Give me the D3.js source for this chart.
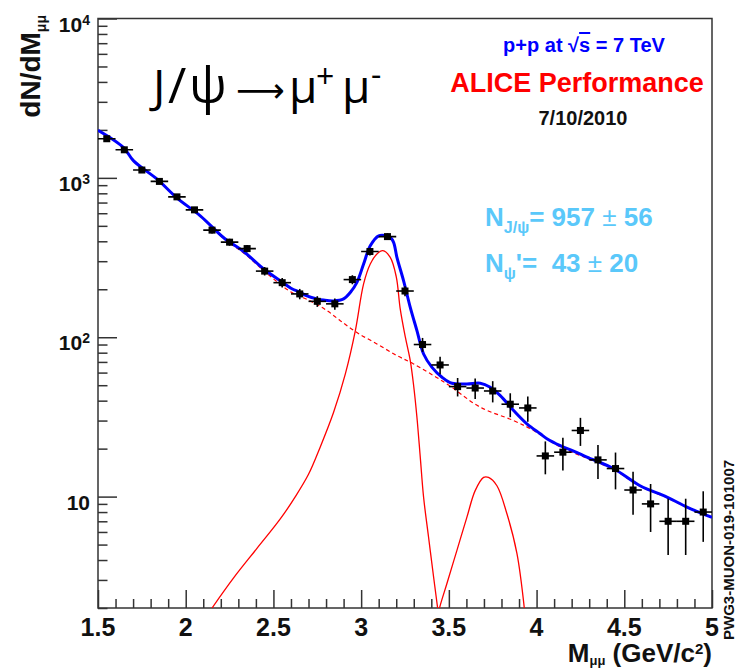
<!DOCTYPE html>
<html><head><meta charset="utf-8">
<script src="https://cdn.jsdelivr.net/npm/d3@7"></script>
<style>body{margin:0;background:#fff;} svg{display:block;}</style>
</head><body><div id="chart"></div>
<script>
// ---- data ----
const binCenters = [1.55,1.65,1.75,1.85,1.95,2.05,2.15,2.25,2.35,2.45,2.55,2.65,2.75,2.85,2.95,3.05,3.15,3.25,3.35,3.45,3.55,3.65,3.75,3.85,3.95,4.05,4.15,4.25,4.35,4.45,4.55,4.65,4.75,4.85,4.95];
const counts = [1760,1500,1120,950,760,630,470,395,360,260,220,187,168,162,230,345,428,195,90,67,49,48,46,38,36,18,19,26,17,15,11,9,7,7,8];
const countErrors = [42,39,33,31,27,25,22,20,19,16,15,14,13,13,15,19,21,14,9,8.5,6.5,7,7,6.5,6.5,4.2,4.4,5.2,4.1,3.9,3.3,3.0,2.7,2.7,2.8];
const binHalfWidth = 0.05;

const fitMass  = [1.5,1.646,1.703,1.837,1.951,2.083,2.22,2.33,2.45,2.55,2.60,2.653,2.691,2.748,2.786,2.843,2.90,2.938,2.976,3.014,3.052,3.10,3.147,3.166,3.185,3.204,3.242,3.28,3.318,3.356,3.404,3.461,3.518,3.603,3.679,3.736,3.793,3.869,3.945,4.021,4.059,4.135,4.211,4.287,4.438,4.59,4.743,4.857,5.0];
const fitValue = [1990,1549,1278,981,746,578,418,345,265,222,203,191,182,174,171,169,174,191,221,288,375,433,433,423,394,317,226,154,110,78.5,64.7,56.1,51.4,50.9,51.5,48.5,43,34.7,28.6,24.8,23.1,20.9,19.3,17.7,15.0,11.7,9.93,8.6,7.4];

const bkgMass  = [1.5,1.646,1.703,1.837,1.951,2.083,2.22,2.33,2.46,2.60,2.71,2.805,2.881,2.976,3.09,3.204,3.299,3.489,3.679,3.869,3.983,4.135,4.287,4.438,4.59,4.743,4.857,5.0];
const bkgValue = [1985,1545,1275,978,743,575,413,338,253,192,169,147,127,107,90.8,76.7,68,50.9,36.4,30,26,20.5,17.4,14.8,11.6,9.85,8.55,7.4];

const sigMass  = [2.15,2.273,2.406,2.539,2.625,2.70,2.767,2.843,2.91,2.967,3.014,3.052,3.09,3.124,3.166,3.20,3.223,3.252,3.28,3.299,3.318,3.337,3.356,3.384,3.413,3.436,3.441,3.447,3.489,3.546,3.603,3.65,3.698,3.726,3.774,3.831,3.888,3.93];
const sigValue = [2.0,3.09,4.73,7.24,10.0,13.8,20.5,33.8,58.9,110,216,288,333,349,317,240,150,100,71.3,50,31.5,17.7,9.9,5.6,3.13,2.0,1.8,2.0,2.85,4.6,7.44,10.9,13.2,13.2,11.7,7.8,4.4,2.0];

const xTickValues = [1.5,2,2.5,3,3.5,4,4.5,5];
const xTickLabels = ["1.5","2","2.5","3","3.5","4","4.5","5"];
const yTickValues = [10,100,1000,10000];
const yTickBase = ["10","10","10","10"];
const yTickExp = ["","2","3","4"];

// ---- layout ----
const W = 736, H = 668;
const L = 98, R = 712, T = 18.5, B = 608;
const FONT = "'Liberation Sans', Arial, Helvetica, sans-serif";
const AXC = "#333";

const svg = d3.select("#chart").append("svg").attr("width", W).attr("height", H)
  .style("background", "#fff");

const x = d3.scaleLinear().domain([1.5, 5]).range([L, R]);
const y = d3.scaleLog().domain([2, 10000]).range([B, T]);

svg.append("defs").append("clipPath").attr("id", "plotclip")
  .append("rect").attr("x", L).attr("y", T).attr("width", R - L).attr("height", B - T);

// ---- axes ----
const xMinor = d3.range(15, 51).map(i => i / 10).filter(v => !xTickValues.includes(v));
const yMinor = [];
[1, 10, 100, 1000].forEach(d => { for (let m = 2; m <= 9; m++) { const v = d * m; if (v >= 2 && v <= 10000) yMinor.push(v); } });

function styleAxis(g) {
  g.select(".domain").remove();
  g.selectAll("line").attr("stroke", AXC).attr("stroke-width", 1.5);
  g.selectAll("text").remove();
}
svg.append("g").attr("transform", `translate(0,${B})`)
  .call(d3.axisBottom(x).tickValues(xTickValues).tickSize(-18).tickFormat("")).call(styleAxis);
svg.append("g").attr("transform", `translate(0,${B})`)
  .call(d3.axisBottom(x).tickValues(xMinor).tickSize(-9).tickFormat("")).call(styleAxis);
svg.append("g").attr("transform", `translate(${L},0)`)
  .call(d3.axisLeft(y).tickValues(yTickValues).tickSize(-19).tickFormat("")).call(styleAxis);
svg.append("g").attr("transform", `translate(${L},0)`)
  .call(d3.axisLeft(y).tickValues(yMinor).tickSize(-9.5).tickFormat("")).call(styleAxis);

// frame
svg.append("rect").attr("x", L).attr("y", T).attr("width", R - L).attr("height", B - T)
  .attr("fill", "none").attr("stroke", AXC).attr("stroke-width", 1.5);

// x tick labels
svg.append("g").selectAll("text").data(xTickValues).join("text")
  .attr("x", d => x(d)).attr("y", 636).attr("text-anchor", "middle")
  .attr("font-family", FONT).attr("font-weight", "bold").attr("font-size", 25).attr("fill", "#111")
  .text((d, i) => xTickLabels[i]);

// y tick labels
const yl = svg.append("g").selectAll("text").data(yTickValues).join("text")
  .attr("x", 90).attr("y", d => y(d) + 13).attr("text-anchor", "end")
  .attr("font-family", FONT).attr("font-weight", "bold").attr("font-size", 21).attr("fill", "#111");
yl.each(function (d, i) {
  const t = d3.select(this);
  t.append("tspan").text(yTickBase[i]);
  if (yTickExp[i]) t.append("tspan").attr("dy", -7).attr("font-size", 14).text(yTickExp[i]);
});

// axis titles
const xt = svg.append("text").attr("x", 712).attr("y", 662).attr("text-anchor", "end")
  .attr("font-family", FONT).attr("font-weight", "bold").attr("font-size", 26).attr("fill", "#111");
xt.append("tspan").text("M");
xt.append("tspan").attr("dy", 3).attr("font-size", 13).text("μμ");
xt.append("tspan").attr("dy", -3).text(" (GeV/c");
xt.append("tspan").attr("dy", -8).attr("font-size", 15).text("2");
xt.append("tspan").attr("dy", 8).text(")");

const yt = svg.append("text").attr("transform", "translate(40,15) rotate(-90)").attr("text-anchor", "end")
  .attr("font-family", FONT).attr("font-weight", "bold").attr("font-size", 28).attr("fill", "#111");
yt.append("tspan").text("dN/dM");
yt.append("tspan").attr("dy", 6).attr("font-size", 14).text("μμ");

// ---- curves ----
const plot = svg.append("g").attr("clip-path", "url(#plotclip)");
const line = d3.line().x(d => x(d[0])).y(d => y(d[1])).curve(d3.curveCatmullRom.alpha(0.5));

plot.append("path").datum(bkgMass.map((m, i) => [m, bkgValue[i]])).attr("d", line)
  .attr("fill", "none").attr("stroke", "#ff0000").attr("stroke-width", 1.2).attr("stroke-dasharray", "4,3");
plot.append("path").datum(sigMass.map((m, i) => [m, sigValue[i]])).attr("d", line)
  .attr("fill", "none").attr("stroke", "#ff0000").attr("stroke-width", 1.3);
plot.append("path").datum(fitMass.map((m, i) => [m, fitValue[i]])).attr("d", line)
  .attr("fill", "none").attr("stroke", "#0000ff").attr("stroke-width", 3);

// ---- data points ----
const pts = plot.append("g").selectAll("g").data(binCenters).join("g");
pts.append("line")
  .attr("x1", (d) => x(d - binHalfWidth)).attr("x2", (d) => x(d + binHalfWidth))
  .attr("y1", (d, i) => y(counts[i])).attr("y2", (d, i) => y(counts[i]))
  .attr("stroke", "#000").attr("stroke-width", 1.6);
pts.append("line")
  .attr("x1", d => x(d)).attr("x2", d => x(d))
  .attr("y1", (d, i) => y(counts[i] + countErrors[i])).attr("y2", (d, i) => y(Math.max(2, counts[i] - countErrors[i])))
  .attr("stroke", "#000").attr("stroke-width", 1.6);
pts.append("rect")
  .attr("x", d => x(d) - 3.5).attr("y", (d, i) => y(counts[i]) - 3.5)
  .attr("width", 7).attr("height", 7).attr("fill", "#000");

// ---- annotations ----
const TF = "'Open Sans', 'Noto Sans', sans-serif";
const title = svg.append("g").attr("font-family", TF).attr("font-size", 46).attr("fill", "#000");
title.append("text").attr("x", 153).attr("y", 103).text("J");
title.append("text").attr("x", 168).attr("y", 103).attr("font-size", 50).text("/");
title.append("text").attr("x", 189).attr("y", 103).attr("font-size", 50).text("ψ");
title.append("text").attr("x", 236).attr("y", 102).attr("font-family", "'DejaVu Sans', sans-serif")
  .attr("font-size", 34).text("⟶");
title.append("text").attr("x", 289).attr("y", 103).text("μ");
title.append("text").attr("x", 316).attr("y", 88).attr("font-size", 32).text("+");
title.append("text").attr("x", 342).attr("y", 103).text("μ");
title.append("text").attr("x", 371).attr("y", 86).attr("font-size", 32).text("-");

const pp = svg.append("text").attr("x", 584).attr("y", 52).attr("text-anchor", "middle")
  .attr("font-family", FONT).attr("font-weight", "bold").attr("font-size", 20).attr("fill", "#0000ff");
pp.append("tspan").text("p+p at √");
pp.append("tspan").style("text-decoration", "overline").text("s");
pp.append("tspan").text(" = 7 TeV");

svg.append("text").attr("x", 577).attr("y", 92).attr("text-anchor", "middle")
  .attr("font-family", FONT).attr("font-weight", "bold").attr("font-size", 27).attr("fill", "#ff0000")
  .text("ALICE Performance");

svg.append("text").attr("x", 583).attr("y", 125).attr("text-anchor", "middle")
  .attr("font-family", FONT).attr("font-weight", "bold").attr("font-size", 20).attr("fill", "#111")
  .text("7/10/2010");

const LB = "#5ac8fa";
const n1 = svg.append("text").attr("x", 485).attr("y", 226)
  .attr("font-family", FONT).attr("font-weight", "bold").attr("font-size", 26).attr("fill", LB);
n1.append("tspan").text("N");
n1.append("tspan").attr("dy", 7).attr("font-size", 16).text("J/ψ");
n1.append("tspan").attr("dy", -7).text("= 957 ");
n1.append("tspan").attr("font-weight", "normal").text("±");
n1.append("tspan").text(" 56");

const n2 = svg.append("text").attr("x", 485).attr("y", 272)
  .attr("font-family", FONT).attr("font-weight", "bold").attr("font-size", 26).attr("fill", LB);
n2.append("tspan").text("N");
n2.append("tspan").attr("dy", 7).attr("font-size", 16).text("ψ");
n2.append("tspan").attr("dy", -7).text("'=\u00a0\u00a043 ");
n2.append("tspan").attr("font-weight", "normal").text("±");
n2.append("tspan").text(" 20");

svg.append("text").attr("transform", "translate(734,640) rotate(-90)")
  .attr("font-family", FONT).attr("font-weight", "bold").attr("font-size", 15).attr("fill", "#111")
  .text("PWG3-MUON-019-101007");
</script>
</body></html>
